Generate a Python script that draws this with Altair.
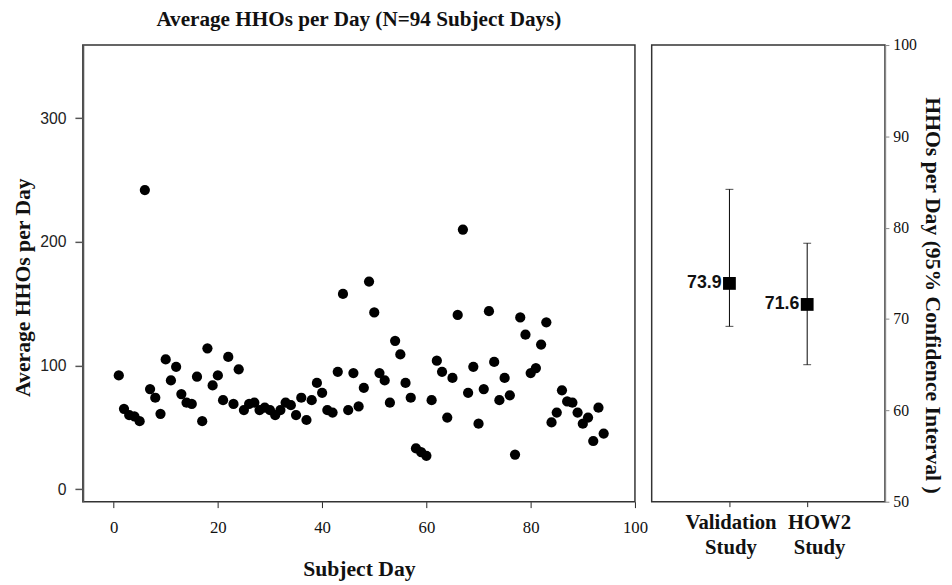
import altair as alt
import pandas as pd

days = list(range(1, 95))
hhos = [92, 65, 60, 59, 55, 242, 81, 74, 61, 105,
        88, 99, 77, 70, 69, 91, 55, 114, 84, 92,
        72, 107, 69, 97, 64, 69, 70, 64, 66, 64,
        60, 64, 70, 68, 60, 74, 56, 72, 86, 78,
        64, 62, 95, 158, 64, 94, 67, 82, 168, 143,
        94, 88, 70, 120, 109, 86, 74, 33, 30, 27,
        72, 104, 95, 58, 90, 141, 210, 78, 99, 53,
        81, 144, 103, 72, 90, 76, 28, 139, 125, 94,
        98, 117, 135, 54, 62, 80, 71, 70, 62, 53,
        58, 39, 66, 45]

studies = ["Validation Study", "HOW2 Study"]
means = [73.9, 71.6]
ci_low = [69.2, 65.0]
ci_high = [84.2, 78.3]

scatter_df = pd.DataFrame({"day": days, "hho": hhos})
ci_df = pd.DataFrame({"study": studies, "mean": means, "lo": ci_low, "hi": ci_high})

SERIF = "Liberation Serif"
SANS = "Liberation Sans"

left = alt.Chart(scatter_df).mark_circle(size=108, color="black", opacity=1).encode(
    x=alt.X("day:Q",
            scale=alt.Scale(domain=[-5.9, 100], nice=False, zero=False),
            axis=alt.Axis(values=[0, 20, 40, 60, 80, 100], title="Subject Day",
                          grid=False, domain=False, tickColor="#222", tickSize=6,
                          labelFont=SERIF, labelFontSize=17, labelColor="#111",
                          labelPadding=12, titleFont=SERIF, titleFontSize=22,
                          titleFontWeight="bold", titleColor="#111", titlePadding=24,
                          labelFlush=False)),
    y=alt.Y("hho:Q",
            scale=alt.Scale(domain=[-10.1, 359.3], nice=False, zero=False),
            axis=alt.Axis(values=[0, 100, 200, 300], title="Average HHOs per Day",
                          grid=False, domain=True, domainColor="#555", domainWidth=2,
                          tickColor="#555", tickSize=8, tickWidth=1.5,
                          labelFont=SANS, labelFontSize=16, labelColor="#222",
                          labelPadding=9, titleFont=SERIF, titleFontSize=22,
                          titleFontWeight="bold", titleColor="#111", titlePadding=5,
                          titleY=246, labelFlush=False)),
).properties(
    width=561, height=464,
    title=alt.TitleParams("Average HHOs per Day (N=94 Subject Days)", font=SERIF,
                          fontSize=21.5, fontWeight="bold", color="#111", offset=15,
                          anchor="middle"),
)

base = alt.Chart(ci_df).encode(
    x=alt.X("study:N", sort=studies,
            scale=alt.Scale(type="point", padding=1),
            axis=alt.Axis(labelExpr="split(datum.label, ' ')", title=None,
                          grid=False, domain=False, tickColor="#222", tickSize=5,
                          labelAngle=0, labelFont=SERIF, labelFontSize=21,
                          labelFontWeight="bold", labelColor="#111", labelPadding=5,
                          labelLineHeight=26,
                          labelOffset={"condition": {"test": "datum.value == 'HOW2 Study'",
                                                     "value": 12},
                                       "value": 1})),
)

yscale = alt.Scale(domain=[50, 100], nice=False, zero=False)
yaxis = alt.Axis(orient="right", values=[50, 60, 70, 80, 90, 100],
                 title="HHOs per Day (95% Confidence Interval )", grid=False,
                 domain=True, domainColor="#888", domainWidth=1.5,
                 tickColor="#888", tickSize=4, labelFont=SERIF, labelFontSize=16,
                 labelColor="#111", labelPadding=4, titleFont=SERIF,
                 titleFontSize=22, titleFontWeight="bold", titleColor="#111",
                 titlePadding=4, titleAngle=90, titleY=254, labelFlush=False)

rule = base.mark_rule(color="black", strokeWidth=1).encode(
    y=alt.Y("lo:Q", scale=yscale, axis=yaxis), y2="hi:Q")
cap_lo = base.mark_tick(color="black", size=8, thickness=1, orient="horizontal").encode(
    y=alt.Y("lo:Q", scale=yscale))
cap_hi = base.mark_tick(color="black", size=8, thickness=1, orient="horizontal").encode(
    y=alt.Y("hi:Q", scale=yscale))
square = base.mark_square(size=169, color="black", opacity=1).encode(
    y=alt.Y("mean:Q", scale=yscale))
label = base.mark_text(align="right", baseline="middle", dx=-8, font=SANS,
                       fontSize=18, fontWeight="bold", color="#111").encode(
    y=alt.Y("mean:Q", scale=yscale), text=alt.Text("mean:Q", format=".1f"))

right = alt.layer(rule, cap_lo, cap_hi, square, label).properties(width=237, height=464)

chart = alt.hconcat(left, right, spacing=2).properties(
    padding={"left": 3, "top": -5, "right": 0, "bottom": 0}
).configure_view(stroke="#333", strokeWidth=1.5)

chart.save("out.html", embed_options={"renderer": "svg", "actions": False})
